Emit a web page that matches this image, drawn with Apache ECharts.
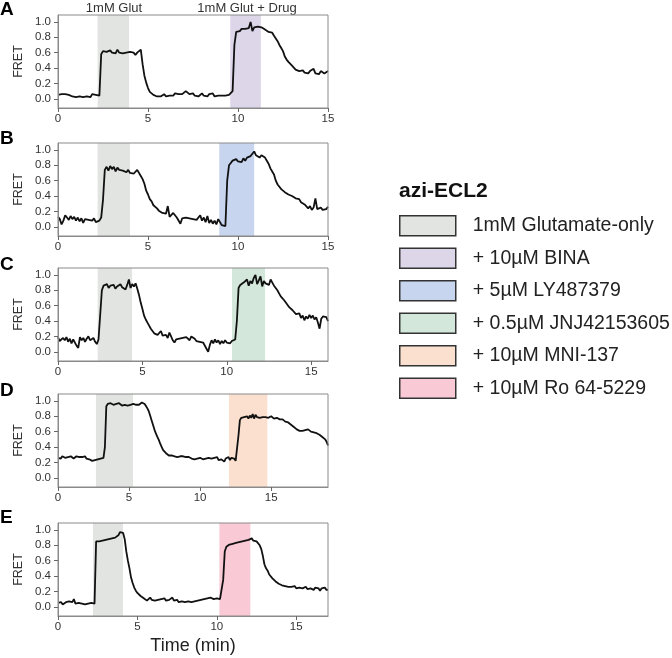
<!DOCTYPE html>
<html><head><meta charset="utf-8">
<script src="https://cdn.jsdelivr.net/npm/echarts@6/dist/echarts.min.js"></script>
<style>html,body{margin:0;padding:0;background:#fff}#c{width:672px;height:658px}</style>
</head><body><div id="c"></div>
<script>
const panelLetters = ['A','B','C','D','E'];
const xMax = [15, 15, 16, 19, 17];
const xTicks = [0, 5, 10, 15];
const yTicks = [0, 0.2, 0.4, 0.6, 0.8, 1.0];
const timeStep = 0.1; // minutes between samples

const fretA = [0.05,0.04,0.06,0.07,0.06,0.08,0.05,0.06,0.03,0.05,0.02,0.04,0.03,0.05,0.02,0.04,0.03,0.05,0.02,0.06,0.04,0.05,0.04,0.04,
0.58,0.62,0.60,0.61,0.59,0.63,0.60,0.62,0.59,0.64,0.60,0.62,0.59,0.61,0.60,0.58,0.61,0.59,0.60,0.57,0.60,0.58,0.64,
0.45,0.30,0.21,0.14,0.09,0.08,0.05,0.04,0.03,0.05,0.03,0.04,0.06,0.03,0.05,0.04,0.06,0.04,0.07,0.05,0.06,0.08,0.06,
0.07,0.10,0.09,0.06,0.05,0.07,0.04,0.06,0.03,0.05,0.07,0.04,0.05,0.03,0.06,0.04,0.07,0.03,0.05,0.04,0.06,0.04,0.05,0.04,0.04,0.05,0.04,
0.10,0.70,0.87,0.89,0.88,0.91,0.89,0.91,0.90,0.92,1.00,0.88,0.93,0.91,0.94,0.95,0.93,0.92,0.90,0.88,0.87,0.85,0.86,0.82,0.80,
0.75,0.70,0.66,0.62,0.55,0.51,0.48,0.46,0.43,0.41,0.38,0.39,0.36,0.35,0.37,0.34,0.35,0.33,0.36,0.34,0.39,0.33,0.35,0.32,0.36,0.34,0.33,0.35,0.36];

const fretB = [0.13,0.10,0.03,0.08,0.15,0.12,0.09,0.14,0.10,0.13,0.08,0.12,0.07,0.11,0.05,0.10,0.12,0.09,0.10,0.08,0.11,0.06,0.04,0.08,0.12,
0.35,0.74,0.78,0.73,0.79,0.75,0.78,0.72,0.77,0.74,0.76,0.73,0.75,0.71,0.74,0.70,0.72,0.69,0.71,0.74,0.72,
0.66,0.62,0.56,0.47,0.42,0.36,0.33,0.28,0.26,0.24,0.21,0.22,0.18,0.20,0.17,0.27,0.13,0.15,0.18,0.16,0.12,0.10,0.04,0.11,
0.13,0.12,0.14,0.11,0.13,0.10,0.12,0.09,0.07,0.15,0.08,0.12,0.06,0.14,0.05,0.09,0.04,0.08,0.03,0.10,0.06,0.02,0.00,0.01,
0.60,0.80,0.83,0.86,0.84,0.88,0.85,0.87,0.84,0.89,0.86,0.90,0.88,0.92,0.95,0.98,0.93,0.91,0.90,0.93,0.95,0.90,
0.86,0.82,0.76,0.72,0.68,0.60,0.55,0.52,0.49,0.47,0.45,0.44,0.42,0.41,0.40,0.38,0.37,0.35,0.36,0.32,0.30,0.29,0.27,0.24,
0.27,0.22,0.25,0.37,0.23,0.21,0.25,0.22,0.24,0.23,0.26];

const fretC = [0.19,0.14,0.12,0.18,0.15,0.19,0.13,0.17,0.11,0.16,0.14,0.08,0.05,0.19,0.15,0.18,0.13,0.17,0.20,0.15,0.16,0.18,0.13,0.10,0.16,0.14,
0.80,0.86,0.84,0.88,0.83,0.86,0.84,0.87,0.82,0.85,0.83,0.88,0.84,0.86,0.81,0.87,0.94,0.83,0.88,0.85,0.89,
0.82,0.74,0.64,0.56,0.47,0.42,0.38,0.34,0.30,0.27,0.24,0.26,0.22,0.24,0.27,0.21,0.19,0.22,0.18,0.25,0.20,0.15,0.12,
0.16,0.14,0.17,0.15,0.18,0.16,0.19,0.17,0.15,0.20,0.21,0.17,0.14,0.16,0.13,0.15,0.12,0.10,0.04,0.00,0.09,0.15,0.11,0.16,0.12,0.15,
0.10,0.14,0.11,0.15,0.12,0.13,0.11,0.14,0.13,0.16,
0.40,0.83,0.87,0.85,0.90,0.88,0.94,0.86,0.92,0.89,0.96,1.00,0.88,0.93,0.98,0.85,0.92,0.89,0.91,0.87,0.94,0.90,
0.86,0.83,0.80,0.76,0.72,0.70,0.67,0.64,0.62,0.58,0.56,0.54,0.52,0.49,0.47,0.50,0.44,0.47,0.41,0.46,0.43,0.48,
0.44,0.47,0.42,0.45,0.38,0.30,0.43,0.46,0.44,0.45,0.40];

const fretD = [0.26,0.27,0.25,0.28,0.27,0.26,0.28,0.27,0.26,0.28,0.27,0.25,0.27,0.28,0.26,0.27,0.25,0.27,0.26,0.28,0.25,0.26,0.24,0.25,0.22,0.24,0.23,0.25,0.24,0.26,0.25,0.27,0.26,
0.40,0.93,0.96,0.95,0.97,0.96,0.95,0.97,0.96,0.95,0.97,0.96,0.94,0.96,0.95,0.97,0.94,0.96,0.95,0.97,0.96,0.98,0.95,0.97,0.95,0.96,0.98,0.97,0.96,
0.93,0.90,0.86,0.80,0.74,0.68,0.62,0.57,0.53,0.49,0.44,0.40,0.36,0.34,0.32,0.31,0.29,0.31,0.29,0.30,0.28,0.30,0.27,0.29,0.28,0.27,0.28,0.26,
0.27,0.25,0.27,0.26,0.25,0.26,0.24,0.26,0.25,0.24,0.26,0.25,0.24,0.26,0.25,0.23,0.26,0.24,0.25,0.23,0.26,0.24,0.27,0.23,0.25,0.24,0.26,0.21,0.25,0.24,
0.27,0.23,0.26,0.24,0.25,0.22,0.20,
0.55,0.75,0.78,0.77,0.79,0.78,0.80,0.77,0.81,0.78,0.83,0.77,0.82,0.79,0.80,0.78,0.80,0.79,0.81,0.79,0.80,0.78,0.79,0.80,0.78,0.77,0.79,0.78,
0.77,0.76,0.75,0.76,0.74,0.73,0.74,0.72,0.71,0.69,0.67,0.66,0.64,0.63,0.62,0.61,0.60,0.61,0.59,0.62,0.60,0.63,0.61,0.60,0.62,0.59,0.60,0.58,
0.57,0.56,0.55,0.53,0.52,0.50,0.47,0.42];

const fretE = [0.05,0.04,0.06,0.03,0.05,0.06,0.04,0.07,0.05,0.06,0.10,0.04,0.06,0.05,0.07,0.04,0.06,0.03,0.05,0.04,0.02,0.05,0.03,0.04,
0.85,0.86,0.85,0.87,0.86,0.88,0.87,0.89,0.88,0.90,0.89,0.91,0.90,0.92,0.93,0.97,0.99,0.96,
0.88,0.72,0.60,0.50,0.38,0.31,0.25,0.21,0.18,0.16,0.14,0.12,0.11,0.09,0.08,0.10,0.12,0.09,0.11,0.08,0.10,0.09,0.07,0.10,0.08,0.11,0.08,0.10,
0.09,0.07,0.12,0.08,0.07,0.09,0.06,0.08,0.07,0.09,0.06,0.08,0.07,0.09,0.06,0.08,0.07,0.09,0.08,0.07,0.09,0.08,0.10,0.09,0.11,0.10,0.12,0.11,0.10,0.12,
0.11,0.13,0.10,0.09,
0.35,0.72,0.78,0.80,0.81,0.79,0.82,0.80,0.83,0.81,0.84,0.82,0.85,0.83,0.86,0.84,0.87,0.85,0.89,0.86,0.88,0.85,0.83,
0.80,0.75,0.66,0.55,0.50,0.47,0.42,0.40,0.37,0.35,0.33,0.32,0.30,0.29,0.28,0.26,0.27,0.25,0.26,0.24,0.26,0.25,0.27,
0.24,0.26,0.25,0.27,0.24,0.25,0.26,0.23,0.25,0.24,0.26,0.22,0.25,0.23,0.24,0.21,0.24,0.22,0.25,0.22,0.22];

const traces = [fretA, fretB, fretC, fretD, fretE];

const glutBands = [[2.2, 3.95], [2.2, 4.0], [2.35, 4.39], [2.67, 5.28], [2.2, 4.09]];
const drugBands = [[9.57, 11.27], [8.96, 10.9], [10.31, 12.27], [12.03, 14.73], [10.16, 12.11]];

const treatments = ['1mM Glutamate-only', '+ 10µM BINA', '+ 5µM LY487379', '+ 0.5µM JNJ42153605', '+ 10µM MNI-137', '+ 10µM Ro 64-5229'];
const treatmentColors = ['#e2e4e2', '#ddd6e8', '#c8d5ee', '#d3e8da', '#fbe0cf', '#f9cad6'];

const topLabels = ['1mM Glut', '1mM Glut + Drug'];

const FONT = '"Liberation Sans", Arial, Helvetica, sans-serif';
const gridTops = [15, 143, 268, 394, 523];
const letterTops = [0, 129, 255, 381, 508];

const chart = echarts.init(document.getElementById('c'), null, {renderer: 'canvas'});

const grids = [], xAxes = [], yAxes = [], series = [];
for (let i = 0; i < 5; i++) {
  grids.push({left: 58, width: 270, top: gridTops[i], height: 93, show: true, z: 10,
    borderColor: '#8a8a8a', borderWidth: 1, backgroundColor: 'rgba(0,0,0,0)'});
  const ticksHere = xTicks.filter(t => t <= xMax[i]);
  xAxes.push({
    type: 'value', gridIndex: i, min: 0, max: xMax[i], interval: 5,
    axisLine: {show: true, onZero: false, lineStyle: {color: '#8a8a8a', width: 1}},
    axisTick: {show: true, inside: false, length: 4, customValues: ticksHere, lineStyle: {color: '#666'}},
    axisLabel: {show: true, margin: 5, fontSize: 11.5, color: '#333', fontFamily: FONT, customValues: ticksHere},
    splitLine: {show: false},
    name: i === 4 ? 'Time (min)' : '', nameLocation: 'middle', nameGap: 21,
    nameTextStyle: {fontSize: 18, color: '#222', fontFamily: FONT},
    z: 11
  });
  yAxes.push({
    type: 'value', gridIndex: i, min: -0.12, max: 1.09,
    axisLine: {show: true, onZero: false, lineStyle: {color: '#8a8a8a', width: 1}},
    axisTick: {show: true, inside: false, length: 4, customValues: yTicks, lineStyle: {color: '#666'}},
    axisLabel: {show: true, margin: 7, fontSize: 11.5, color: '#333', fontFamily: FONT,
      customValues: yTicks, formatter: v => v.toFixed(1)},
    splitLine: {show: false},
    name: 'FRET', nameLocation: 'middle', nameGap: 33,
    nameTextStyle: {fontSize: 12.5, color: '#333', fontFamily: FONT},
    z: 11
  });
  const tr = traces[i];
  series.push({
    type: 'line', xAxisIndex: i, yAxisIndex: i, showSymbol: false, symbol: 'none',
    data: tr.map((v, k) => [Math.round(k * timeStep * 100) / 100, v]),
    lineStyle: {color: '#111', width: 1.8}, itemStyle: {color: '#111'},
    z: 5, animation: false, silent: true
  });
  series.push({
    type: 'line', name: treatments[0], xAxisIndex: i, yAxisIndex: i, data: [],
    itemStyle: {color: treatmentColors[0]}, lineStyle: {color: treatmentColors[0]},
    z: 1, animation: false,
    markArea: {silent: true, itemStyle: {color: treatmentColors[0], opacity: 1},
      data: [[{xAxis: glutBands[i][0]}, {xAxis: glutBands[i][1]}]]}
  });
  series.push({
    type: 'line', name: treatments[i + 1], xAxisIndex: i, yAxisIndex: i, data: [],
    itemStyle: {color: treatmentColors[i + 1]}, lineStyle: {color: treatmentColors[i + 1]},
    z: 1, animation: false,
    markArea: {silent: true, itemStyle: {color: treatmentColors[i + 1], opacity: 1},
      data: [[{xAxis: drugBands[i][0]}, {xAxis: drugBands[i][1]}]]}
  });
}

const graphics = panelLetters.map((L, i) => ({
  type: 'text', left: 0, top: letterTops[i],
  style: {text: L, font: 'bold 19px ' + FONT, fill: '#000'}
}));
graphics.push({type: 'text', x: 114, y: 2, style: {text: topLabels[0], font: '13px ' + FONT, fill: '#333', textAlign: 'center'}});
graphics.push({type: 'text', x: 247, y: 2, style: {text: topLabels[1], font: '13px ' + FONT, fill: '#333', textAlign: 'center'}});

chart.setOption({
  animation: false,
  backgroundColor: '#fff',
  textStyle: {fontFamily: FONT},
  title: {text: 'azi-ECL2', left: 399, top: 181, padding: 0,
    textStyle: {fontSize: 21, fontWeight: 'bold', color: '#111', fontFamily: FONT}},
  legend: {
    orient: 'vertical', left: 399, top: 215, padding: 0,
    data: treatments, icon: 'rect', itemWidth: 56, itemHeight: 20, itemGap: 11,
    selectedMode: false,
    itemStyle: {borderColor: '#333', borderWidth: 1.5},
    textStyle: {fontSize: 19.5, color: '#222', fontFamily: FONT, padding: [0, 0, 0, 12]}
  },
  grid: grids, xAxis: xAxes, yAxis: yAxes, series: series, graphic: graphics
});
</script></body></html>
